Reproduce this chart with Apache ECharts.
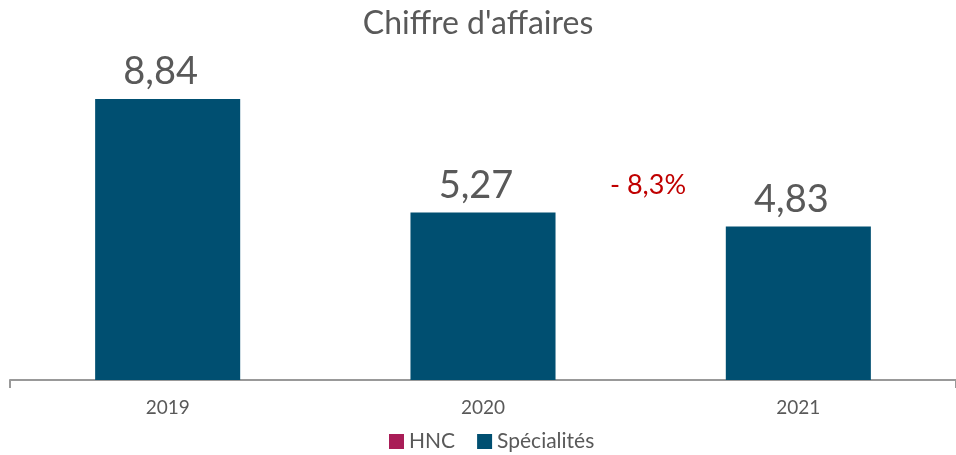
<!DOCTYPE html>
<html><head><meta charset="utf-8">
<script src="https://cdn.jsdelivr.net/npm/echarts@6/dist/echarts.min.js"></script>
<style>html,body{margin:0;padding:0;background:#fff}#c{width:956px;height:455px}</style>
</head><body><div id="c"></div>
<script>
var categories = ['2019', '2020', '2021'];
var hncValues = [0, 0, 0];
var specialitesValues = [8.84, 5.27, 4.83];
var changeLabel = '- 8,3%';
var titleText = "Chiffre d'affaires";

var FONT = 'Lato';
var chart = echarts.init(document.getElementById('c'));
chart.setOption({
  animation: false,
  textStyle: { fontFamily: FONT },
  title: {
    text: titleText, left: 'center', top: 3,
    textStyle: { fontFamily: FONT, fontSize: 32, fontWeight: 'normal', color: '#595959' }
  },
  legend: {
    bottom: 3, left: 389, padding: 0, itemWidth: 15, itemHeight: 15, itemGap: 22,
    icon: 'rect',
    textStyle: { fontFamily: FONT, fontSize: 21, color: '#595959' },
    data: ['HNC', 'Spécialités']
  },
  grid: { left: 10, right: 0, top: 62, bottom: 75, containLabel: false },
  xAxis: {
    type: 'category', data: categories,
    axisLine: { lineStyle: { color: '#999999', width: 2 } },
    axisTick: { show: true, length: 8, interval: function (i) { return i === 0; }, lineStyle: { color: '#999999', width: 2 } },
    axisLabel: { fontFamily: FONT, fontSize: 19, color: '#595959', margin: 18 }
  },
  yAxis: { type: 'value', min: 0, max: 10, show: false, splitLine: { show: false } },
  series: [
    { name: 'HNC', type: 'bar', stack: 'a', data: hncValues, itemStyle: { color: '#A91D57' }, barWidth: '46%' },
    { name: 'Spécialités', type: 'bar', stack: 'a', data: specialitesValues, barWidth: '46%',
      itemStyle: { color: '#004F71' },
      label: { show: true, position: 'top', distance: 8, offset: [-7, 0], fontFamily: FONT, fontSize: 38, color: '#595959',
        formatter: function (p) { return p.value.toFixed(2).replace('.', ','); } } }
  ],
  graphic: [{
    type: 'text', left: 610, top: 172,
    style: { text: changeLabel, fontFamily: FONT, fontSize: 27, fill: '#C00000' }
  }]
});
</script></body></html>
